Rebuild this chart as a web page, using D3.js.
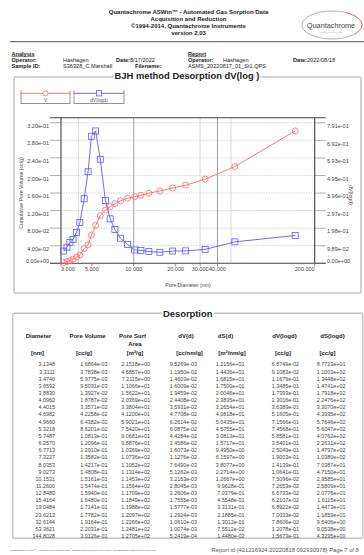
<!DOCTYPE html>
<html><head><meta charset="utf-8">
<script src="https://cdn.jsdelivr.net/npm/d3@7"></script>
<style>
html,body{margin:0;padding:0;background:#fff;}
svg{display:block;font-family:"Liberation Sans",Arial,sans-serif;}
</style></head><body>
<svg id="c" width="364" height="555"></svg>
<script>
// ---------- data ----------
const diameter = [3.1348,3.3111,3.4740,3.6592,3.8830,4.0962,4.4015,4.6982,4.9660,5.3218,5.7487,6.2570,6.7713,7.3227,8.0353,9.0273,10.1531,11.2600,12.8480,15.4164,19.0484,23.6213,32.6144,53.3621,144.8028];
const poreVolume = [1.6864e-03,3.7838e-03,5.9775e-03,9.5031e-03,1.3927e-02,1.8787e-02,3.3571e-02,4.2258e-02,6.4382e-02,8.6201e-02,1.0813e-01,1.2096e-01,1.2910e-01,1.3582e-01,1.4217e-01,1.4808e-01,1.5161e-01,1.5474e-01,1.5940e-01,1.6480e-01,1.7141e-01,1.7782e-01,1.9164e-01,2.2031e-01,3.0126e-01];
const poreSurfArea = [2.1518e+00,4.6857e+00,7.2115e+00,1.1066e+01,1.5622e+01,2.0369e+01,3.3804e+01,4.1200e+01,5.9021e+01,7.5420e+01,9.0681e+01,9.8876e+01,1.0369e+02,1.0736e+02,1.1052e+02,1.1314e+02,1.1453e+02,1.1564e+02,1.1709e+02,1.1849e+02,1.1988e+02,1.2097e+02,1.2266e+02,1.2481e+02,1.2705e+02];
const dVd = [9.5269e-03,1.1950e-02,1.4603e-02,1.6009e-02,1.9459e-02,2.4408e-02,3.5931e-02,4.7708e-02,6.2614e-02,6.0875e-02,4.4284e-02,2.4586e-02,1.6073e-02,1.1276e-02,7.6490e-03,5.1262e-03,3.2153e-03,2.8045e-03,2.2606e-03,1.7555e-03,1.5777e-03,1.2924e-03,1.0610e-03,1.0074e-03,5.2419e-04];
const dSd = [1.2156e+01,1.4436e+01,1.6815e+01,1.7500e+01,2.0046e+01,2.3835e+01,3.2654e+01,4.0818e+01,5.0435e+01,4.5755e+01,3.0813e+01,1.5717e+01,9.4950e+00,6.1597e+00,3.8077e+00,2.2714e+00,1.2667e+00,9.9628e-01,7.0379e-01,4.5548e-01,3.3131e-01,2.1885e-01,1.3012e-01,7.5512e-02,1.4480e-02];
const dVlogd = [6.8749e-02,9.1083e-02,1.1679e-01,1.3485e-01,1.7393e-01,2.3016e-01,3.6389e-01,5.1605e-01,7.1566e-01,7.4568e-01,5.8581e-01,3.5401e-01,2.5049e-01,1.9003e-01,1.4139e-01,1.0641e-01,7.5096e-02,7.2653e-02,6.6733e-02,6.2107e-02,6.8922e-02,7.0033e-02,7.8606e-02,1.2078e-01,1.5673e-01];
const dSlogd = [8.7723e+01,1.1003e+02,1.3448e+02,1.4741e+02,1.7918e+02,2.2476e+02,3.3070e+02,4.3935e+02,5.7646e+02,5.6047e+02,4.0762e+02,2.2631e+02,1.4797e+02,1.0380e+02,7.0387e+01,4.7150e+01,2.9585e+01,2.5809e+01,2.0776e+01,1.6115e+01,1.4473e+01,1.1859e+01,9.6406e+00,9.0538e+00,4.3295e+00];

const xTicks = [3,5,10,20,30,40,200];
const xTickLabels = ["3.000","5.000","10.000","20.000","30.000","40.000","200.000"];
const xGridDark = [10,40];
const xGridLight = [4,30,50];
const leftTicks = [0,0.04,0.08,0.12,0.16,0.20,0.24,0.28,0.32];
const leftTickLabels = ["0.00e+00","4.00e-02","8.00e-02","1.20e-01","1.60e-01","2.00e-01","2.40e-01","2.80e-01","3.20e-01"];
const rightTicks = [0,0.0989,0.1978,0.2967,0.3956,0.4945,0.5934,0.6923,0.7912];
const rightTickLabels = ["0.00e+00","9.89e-02","1.98e-01","2.97e-01","3.96e-01","4.95e-01","5.93e-01","6.92e-01","7.91e-01"];
const seriesNames = ["V","dV(logd)"];

const tableHeaders = ["Diameter","Pore Volume","Pore Surf","dV(d)","dS(d)","dV(logd)","dS(logd)"];
const tableUnits = ["[nm]","[cc/g]","[m²/g]","[cc/nm/g]","[m²/nm/g]","[cc/g]","[cc/g]"];

// ---------- layout ----------
const svg = d3.select("#c");

// Header
const head = svg.append("g").attr("font-weight","bold").attr("font-size",6).attr("fill","#222").attr("text-anchor","middle");
[["Quantachrome ASWin™ - Automated Gas Sorption Data",13.8],["Acquisition and Reduction",21.4],["©1994-2014, Quantachrome Instruments",28],["version 2.03",34.8]]
 .forEach(([t,y])=>head.append("text").attr("x",188.5).attr("y",y).text(t));

// logo
const logo = svg.append("g");
logo.append("ellipse").attr("cx",332).attr("cy",25).attr("rx",30).attr("ry",14).attr("fill","#fff").attr("stroke","#aaa").attr("stroke-width",0.9);
logo.append("path").attr("d","M 345 12.3 A 30 14 0 0 1 355 34").attr("fill","none").attr("stroke","#e66").attr("stroke-width",0.8);
logo.append("text").attr("x",331).attr("y",27.5).attr("text-anchor","middle").attr("font-size",7.3).attr("fill","#444").text("Quantachrome");
logo.append("text").attr("x",331).attr("y",32.5).attr("text-anchor","middle").attr("font-size",2.3).attr("fill","#999").attr("letter-spacing",0.6).text("INSTRUMENTS");

svg.append("line").attr("x1",10).attr("x2",364).attr("y1",41.7).attr("y2",41.7).attr("stroke","#555").attr("stroke-width",1);

// Info block
const info = svg.append("g").attr("font-size",5.6).attr("fill","#222");
info.append("text").attr("x",11.5).attr("y",55.5).attr("font-weight","bold").attr("text-decoration","underline").text("Analysis");
info.append("text").attr("x",188).attr("y",55.5).attr("font-weight","bold").attr("text-decoration","underline").text("Report");
const infoRows = [
 [11.5,61.8,"Operator:",true],[63,61.8,"Hashagen",false],[116,61.8,"Date:",true],[131,61.8,"8/17/2022",false],
 [188,61.8,"Operator:",true],[223,61.8,"Hashagen",false],[293,61.8,"Date:",true],[308,61.8,"2022/08/18",false],
 [11.5,68.3,"Sample ID:",true],[63,68.3,"S36328_C.Marshall",false],[135,68.3,"Filename:",true],[188,68.3,"ASMS_20220817_01_St1.QPS",false]
];
infoRows.forEach(([x,y,t,b])=>info.append("text").attr("x",x).attr("y",y).attr("font-weight",b?"bold":"normal").text(t));
info.selectAll("text").filter(function(){return this.textContent==="Date:";}).each(function(){
  const w=this.getComputedTextLength(); const nx=this.nextSibling; d3.select(nx).attr("x",+this.getAttribute("x")+w);
});

// Chart box
svg.append("rect").attr("x",14).attr("y",77).attr("width",347).attr("height",216).attr("fill","none").attr("stroke","#c4c4c4").attr("stroke-width",1.5).attr("rx",1);
const ctBg = svg.append("rect").attr("fill","#fff");
const ctitle = svg.append("text").attr("x",187).attr("y",78.5).attr("text-anchor","middle").attr("font-size",9.4).attr("font-weight","bold").attr("fill","#222").text("BJH method Desorption  dV(log )");
{const bb=ctitle.node().getBBox(); ctBg.attr("x",bb.x-1).attr("y",bb.y).attr("width",bb.width+2).attr("height",bb.height);}

// scales
const L=61, R=314.7, T=117.7, B=263.3;
const x = d3.scaleLog().domain([3,200]).range([L,R]);
const yL = d3.scaleLinear().domain([0,d3.max(poreVolume)*1.1]).range([B,T]);
const yR = d3.scaleLinear().domain([0,d3.max(dVlogd)*1.1]).range([B,T]);

const g = svg.append("g");
g.selectAll(".hg").data(leftTicks.slice(1)).join("line").attr("x1",L).attr("x2",R)
 .attr("y1",d=>yL(d)).attr("y2",d=>yL(d)).attr("stroke","#bdbdbd").attr("stroke-width",0.6).attr("stroke-dasharray","1.5,1");
g.selectAll(".vgl").data(xGridLight).join("line").attr("x1",d=>x(d)).attr("x2",d=>x(d)).attr("y1",T).attr("y2",B).attr("stroke","#cfcfcf").attr("stroke-width",0.8);
g.selectAll(".vgd").data(xGridDark).join("line").attr("x1",d=>x(d)).attr("x2",d=>x(d)).attr("y1",T).attr("y2",B).attr("stroke","#777").attr("stroke-width",0.7);

g.selectAll(".tl").data(leftTicks).join("line").attr("x1",L-11).attr("x2",L).attr("y1",d=>yL(d)).attr("y2",d=>yL(d)).attr("stroke","#999").attr("stroke-width",0.8);
g.selectAll(".tr").data(rightTicks).join("line").attr("x1",R).attr("x2",R+11).attr("y1",d=>yR(d)).attr("y2",d=>yR(d)).attr("stroke","#999").attr("stroke-width",0.8);
[[L-11,T,R+11,T],[L-11,B,R+11,B],[L,T,L,B],[R,T,R,B]].forEach(([a,b,c,d])=>g.append("line").attr("x1",a).attr("y1",b).attr("x2",c).attr("y2",d).attr("stroke","#444").attr("stroke-width",1.1));
g.selectAll(".tx").data(xTicks).join("line").attr("x1",d=>x(d)).attr("x2",d=>x(d)).attr("y1",B).attr("y2",B+3).attr("stroke","#666").attr("stroke-width",0.7);

const tf = 5.5;
g.selectAll(".ll").data(leftTicks).join("text").attr("x",49).attr("y",(d)=>Math.min(yL(d)+3.3,B-2.6)+1.9)
 .attr("text-anchor","end").attr("font-size",tf).attr("fill","#444").text((d,i)=>leftTickLabels[i]);
g.selectAll(".rl").data(rightTicks).join("text").attr("x",327).attr("y",(d)=>Math.min(yR(d)+3.3,B-2.6)+1.9)
 .attr("text-anchor","start").attr("font-size",tf).attr("fill","#444").text((d,i)=>rightTickLabels[i]);
g.selectAll(".xl").data(xTicks).join("text").attr("x",d=>x(d)).attr("y",271.3)
 .attr("text-anchor",(d,i)=>i===0?"start":(i===xTicks.length-1?"end":"middle")).attr("font-size",tf).attr("fill","#444").text((d,i)=>xTickLabels[i]);

g.append("text").attr("transform","translate(22.5,193) rotate(-90)").attr("text-anchor","middle").attr("font-size",5.2).attr("fill","#444").text("Cumulative Pore Volume (cc/g)");
g.append("text").attr("transform","translate(349,195) rotate(90)").attr("text-anchor","middle").attr("font-size",5.2).attr("fill","#444").text("dV(logd)");
g.append("text").attr("x",188).attr("y",286.5).attr("text-anchor","middle").attr("font-size",5.2).attr("fill","#444").text("Pore Diameter (nm)");

const red="#ff6a6a", blue="#5a5aff";
const lineV = d3.line().x((d,i)=>x(diameter[i])).y(d=>yL(d));
const lineD = d3.line().x((d,i)=>x(diameter[i])).y(d=>yR(d));
g.append("path").attr("d",lineV(poreVolume)).attr("fill","none").attr("stroke",red).attr("stroke-width",0.9);
g.append("path").attr("d",lineD(dVlogd)).attr("fill","none").attr("stroke",blue).attr("stroke-width",0.9);
g.selectAll(".cv").data(poreVolume).join("circle").attr("cx",(d,i)=>x(diameter[i])).attr("cy",d=>yL(d)).attr("r",3).attr("fill","none").attr("stroke",red).attr("stroke-width",0.8);
g.selectAll(".sq").data(dVlogd).join("rect").attr("x",(d,i)=>x(diameter[i])-3).attr("y",d=>yR(d)-3).attr("width",6).attr("height",6).attr("fill","none").attr("stroke",blue).attr("stroke-width",0.8);

// legend
const leg = svg.append("g");
[[21,70,red,"c"],[74,124,blue,"s"]].forEach(([a,b,col,m],i)=>{
  leg.append("line").attr("x1",a).attr("x2",a).attr("y1",90.5).attr("y2",104).attr("stroke","#777").attr("stroke-width",0.8);
  leg.append("line").attr("x1",b).attr("x2",b).attr("y1",90.5).attr("y2",104).attr("stroke","#777").attr("stroke-width",0.8);
  leg.append("line").attr("x1",a).attr("x2",b).attr("y1",103.5).attr("y2",103.5).attr("stroke","#777").attr("stroke-width",0.8);
  leg.append("line").attr("x1",a).attr("x2",b).attr("y1",93.3).attr("y2",93.3).attr("stroke",col).attr("stroke-width",0.9);
  const cx=(a+b)/2;
  if(m==="c") leg.append("circle").attr("cx",cx).attr("cy",93.3).attr("r",2.6).attr("fill","#fff").attr("stroke",col).attr("stroke-width",0.8);
  else leg.append("rect").attr("x",cx-2.6).attr("y",90.7).attr("width",5.2).attr("height",5.2).attr("fill","#fff").attr("stroke",col).attr("stroke-width",0.8);
  leg.append("text").attr("x",cx).attr("y",101.8).attr("text-anchor","middle").attr("font-size",4.6).attr("fill","#555").text(seriesNames[i]);
});

// ---------- table ----------
svg.append("rect").attr("x",12.7).attr("y",313.3).attr("width",350).attr("height",225).attr("fill","none").attr("stroke","#c4c4c4").attr("stroke-width",1.5).attr("rx",1);
const ttBg = svg.append("rect").attr("fill","#fff");
const ttitle = svg.append("text").attr("x",187.7).attr("y",316.5).attr("text-anchor","middle").attr("font-size",9.4).attr("font-weight","bold").attr("fill","#222").text("Desorption");
{const bb=ttitle.node().getBBox(); ttBg.attr("x",bb.x-1).attr("y",bb.y).attr("width",bb.width+2).attr("height",bb.height);}

const headX = [38.5,87.5,132.5,186,225.5,284.5,332.5];
const unitX = [37.5,84,135,189.5,232,283,327.5];
const tb = svg.append("g").attr("fill","#222");
tableHeaders.forEach((h,i)=>tb.append("text").attr("x",headX[i]).attr("y",338).attr("text-anchor","middle").attr("font-size",6).attr("font-weight","bold").text(h));
tb.append("text").attr("x",135).attr("y",346).attr("text-anchor","middle").attr("font-size",6).attr("font-weight","bold").text("Area");
tableUnits.forEach((h,i)=>tb.append("text").attr("x",unitX[i]).attr("y",354.7).attr("text-anchor","middle").attr("font-size",6).attr("font-weight","bold").text(h));

function fe(v){ const s=v.toExponential(4); return s.replace(/e([+-])(\d+)$/,(m,sg,ex)=>"e"+sg+(ex.length<2?"0"+ex:ex)); }
const cols = [diameter.map(d=>d.toFixed(4)),poreVolume.map(fe),poreSurfArea.map(fe),dVd.map(fe),dSd.map(fe),dVlogd.map(fe),dSlogd.map(fe)];
const colRight = [55,107.5,150,197,244.5,299,345.5];
const rowY0 = 364.5, rowStep = 7.15;
const tv = svg.append("g").attr("font-size",5.4).attr("fill","#444").attr("text-anchor","end");
cols.forEach((c,j)=>{
  tv.selectAll(null).data(c).join("text").attr("x",colRight[j]).attr("y",(d,i)=>rowY0+i*rowStep+1.9).text(d=>d);
});

// footer
svg.append("text").attr("x",10).attr("y",551).attr("font-size",2.4).attr("fill","#555").text("Quantachrome ASWin™ - Automated Gas Sorption Data Acquisition and Reduction ©1994-2014, Quantachrome Instruments version 2.03");
svg.append("text").attr("x",211.5).attr("y",552).attr("font-size",5.8).attr("fill","#555").text("Report id:{421216924:20220818 092930978} Page 7 of 8");
</script>
</body></html>
